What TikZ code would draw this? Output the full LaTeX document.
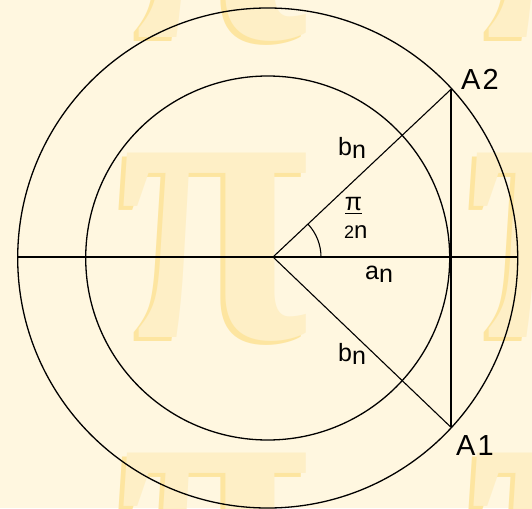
\documentclass[tikz,border=0pt]{standalone}
\usepackage{fontspec}
\setmainfont{Liberation Sans}
\newfontfamily\wmfont{Liberation Serif}
\usepackage{graphicx}
\definecolor{bgcream}{RGB}{255,247,224}
\definecolor{wmgold}{RGB}{253,229,160}
\definecolor{wmlight}{RGB}{254,239,198}
\tikzset{
  wm/.style={inner sep=0pt, text=wmlight},
  wmshadow/.style={inner sep=0pt, text=wmgold},
  circ/.style={line width=1.3pt, draw=black},
  axis/.style={line width=1.7pt, draw=black},
  radius line/.style={line width=1.1pt, draw=black},
  lbl/.style={inner sep=0pt, anchor=base west, font=\fontsize{25}{25}\selectfont},
  ptlbl/.style={inner sep=0pt, anchor=base west, font=\fontsize{29}{29}\selectfont}
}
\begin{document}
\begin{tikzpicture}[x=1pt,y=-1pt,line join=round]
\useasboundingbox (0,0) rectangle (532,508);
\clip (0,0) rectangle (532,508);
\fill[bgcream] (0,0) rectangle (532,508);
% watermark tiles (embossed pi)
\foreach \px/\py [count=\i] in {215/-53, 565/-53, 215/247, 565/247, 215/547, 565/547}{
  \node[wmshadow] (wms\i) at (\px-5,\py+4) {\resizebox{190pt}{184pt}{\wmfont\bfseries π}};
  \node[wm] (wm\i) at (\px,\py) {\resizebox{190pt}{184pt}{\wmfont\bfseries π}};
}
% key points
\coordinate (C) at (267.7,258);
\coordinate (O) at (273,257);
\coordinate (A2) at (451,89.3);
\coordinate (A1) at (451,427.3);
\coordinate (L) at (17.3,257);
\coordinate (R) at (518.3,257);
% circles
\draw[circ] (C) circle[radius=250pt];
\draw[circ] (C) circle[radius=182pt];
% lines
\draw[axis] (L) -- (R);
\draw[axis] (A2) -- (A1);
\draw[radius line] (O) -- (A2);
\draw[radius line] (O) -- (A1);
% angle arc
\draw[radius line] ([shift={(48pt,0pt)}]O) arc[start angle=0, end angle=43.3, radius=48pt];
% labels
\node[lbl] (b1) at (338,155) {b\raisebox{-3pt}{n}};
\node[lbl] (b2) at (338,361) {b\raisebox{-3pt}{n}};
\node[lbl] (an) at (365,279) {a\raisebox{-3pt}{n}};
\node[inner sep=0pt, anchor=base, font=\fontsize{25}{25}\selectfont] (pi) at (353.5,210) {π};
\coordinate (barL) at (345,213.5);
\coordinate (barR) at (362,213.5);
\draw[line width=1.2pt] (barL) -- (barR);
\node[inner sep=0pt, anchor=base west] (twon) at (344,238) {\fontsize{18}{18}\selectfont 2\fontsize{24}{24}\selectfont n};
\node[ptlbl] (lA2) at (461,90) {A\kern2pt 2};
\node[ptlbl] (lA1) at (456,455) {A\kern2pt 1};
\end{tikzpicture}
\end{document}
